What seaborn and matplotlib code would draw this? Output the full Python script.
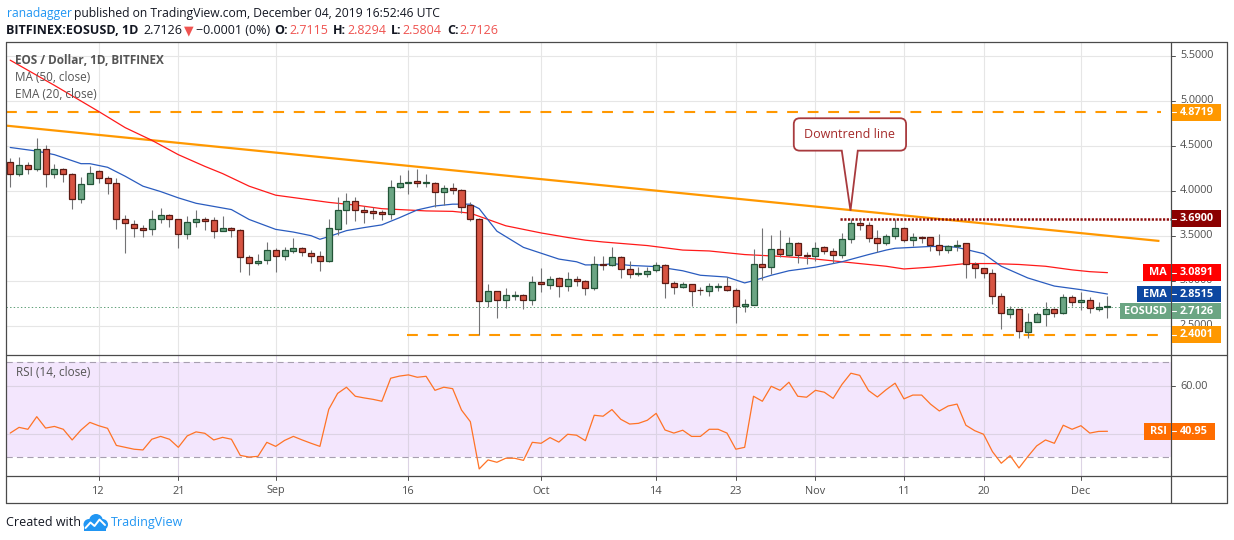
import numpy as np
import pandas as pd
import matplotlib
matplotlib.use("Agg")
import matplotlib.pyplot as plt
import matplotlib.dates as mdates
from matplotlib.patches import Rectangle, PathPatch, Circle
from matplotlib.path import Path
from matplotlib.lines import Line2D
from matplotlib.transforms import Bbox
import seaborn as sns

# ---------------- data ----------------
start_date = "2019-08-02"

opens = [4.32, 4.18, 4.29, 4.24, 4.46, 4.19, 4.24, 4.18, 3.91, 4.07,
         4.22, 4.14, 4.09, 3.68, 3.63, 3.59, 3.57, 3.69, 3.73, 3.68,
         3.52, 3.65, 3.68, 3.67, 3.55, 3.58, 3.56, 3.26, 3.20, 3.23,
         3.34, 3.27, 3.33, 3.36, 3.31, 3.27, 3.22, 3.57, 3.79, 3.88,
         3.78, 3.77, 3.76, 3.74, 4.04, 4.09, 4.105, 4.085, 4.09, 3.98,
         4.03, 4.01, 3.84, 3.69, 2.77, 2.88, 2.79, 2.835, 2.84, 2.79,
         2.98, 2.95, 3.03, 2.94, 3.02, 3.00, 2.92, 3.19, 3.17, 3.26,
         3.13, 3.07, 3.07, 3.115, 3.17, 2.97, 2.935, 2.96, 2.90, 2.88,
         2.935, 2.94, 2.90, 2.72, 2.73, 3.19, 3.15, 3.35, 3.29, 3.42,
         3.28, 3.27, 3.37, 3.33, 3.28, 3.46, 3.64, 3.62, 3.47, 3.42,
         3.50, 3.59, 3.45, 3.49, 3.48, 3.40, 3.34, 3.38, 3.42, 3.18,
         3.14, 3.09, 2.83, 2.63, 2.69, 2.43, 2.54, 2.63, 2.69, 2.64,
         2.82, 2.76, 2.79, 2.69, 2.7115]
highs = [4.36, 4.37, 4.32, 4.58, 4.51, 4.30, 4.25, 4.20, 4.15, 4.27,
         4.23, 4.16, 4.14, 3.73, 3.67, 3.62, 3.79, 3.81, 3.74, 3.69,
         3.72, 3.79, 3.705, 3.71, 3.72, 3.60, 3.57, 3.29, 3.30, 3.43,
         3.36, 3.37, 3.47, 3.37, 3.34, 3.33, 3.68, 3.93, 3.97, 3.93,
         3.83, 3.82, 3.79, 4.12, 4.17, 4.23, 4.24, 4.185, 4.10, 4.06,
         4.08, 4.02, 3.87, 3.70, 2.96, 2.89, 2.92, 2.88, 2.85, 3.05,
         3.14, 3.05, 3.04, 3.10, 3.05, 3.01, 3.27, 3.27, 3.37, 3.27,
         3.22, 3.15, 3.15, 3.21, 3.19, 3.00, 2.985, 2.965, 2.93, 2.97,
         2.97, 3.04, 2.92, 2.80, 3.35, 3.59, 3.51, 3.56, 3.48, 3.43,
         3.32, 3.43, 3.39, 3.36, 3.53, 3.69, 3.69, 3.65, 3.56, 3.515,
         3.69, 3.60, 3.53, 3.495, 3.49, 3.515, 3.40, 3.456, 3.42, 3.21,
         3.14, 3.13, 2.86, 2.72, 2.69, 2.64, 2.65, 2.76, 2.70, 2.85,
         2.84, 2.87, 2.82, 2.76, 2.8294]
lows = [4.04, 4.16, 4.18, 4.22, 4.04, 4.14, 4.10, 3.80, 3.86, 4.07,
        4.08, 3.96, 3.57, 3.31, 3.48, 3.49, 3.51, 3.64, 3.60, 3.36,
        3.46, 3.60, 3.56, 3.47, 3.55, 3.49, 3.10, 3.06, 3.17, 3.19,
        3.10, 3.23, 3.31, 3.27, 3.20, 3.11, 3.21, 3.51, 3.63, 3.66,
        3.64, 3.68, 3.67, 3.69, 4.03, 3.96, 4.04, 4.04, 3.82, 3.84,
        3.96, 3.75, 3.66, 2.40, 2.71, 2.59, 2.70, 2.78, 2.68, 2.73,
        2.87, 2.905, 2.82, 2.88, 2.94, 2.84, 2.90, 3.12, 3.16, 3.03,
        3.03, 3.05, 3.04, 3.10, 2.81, 2.855, 2.915, 2.72, 2.845, 2.83,
        2.88, 2.88, 2.53, 2.656, 2.73, 3.01, 3.07, 3.26, 3.27, 3.20,
        3.18, 3.22, 3.30, 3.20, 3.25, 3.42, 3.56, 3.43, 3.32, 3.40,
        3.46, 3.43, 3.39, 3.42, 3.33, 3.28, 3.31, 3.33, 3.03, 3.03,
        3.03, 2.74, 2.46, 2.58, 2.36, 2.36, 2.54, 2.50, 2.60, 2.63,
        2.72, 2.67, 2.64, 2.66, 2.5804]
closes = [4.18, 4.29, 4.24, 4.46, 4.19, 4.24, 4.18, 3.91, 4.07, 4.20,
          4.14, 4.08, 3.68, 3.64, 3.59, 3.56, 3.69, 3.73, 3.68, 3.52,
          3.65, 3.68, 3.667, 3.55, 3.58, 3.56, 3.26, 3.20, 3.22, 3.34,
          3.27, 3.34, 3.36, 3.32, 3.27, 3.22, 3.58, 3.79, 3.88, 3.78,
          3.76, 3.756, 3.74, 4.04, 4.08, 4.10, 4.08, 4.09, 3.98, 4.03,
          4.01, 3.82, 3.69, 2.77, 2.88, 2.79, 2.84, 2.84, 2.79, 2.98,
          2.96, 3.02, 2.94, 3.02, 3.00, 2.92, 3.19, 3.17, 3.26, 3.13,
          3.07, 3.08, 3.11, 3.17, 2.97, 2.93, 2.96, 2.89, 2.895, 2.94,
          2.94, 2.90, 2.72, 2.74, 3.19, 3.15, 3.35, 3.30, 3.42, 3.28,
          3.27, 3.36, 3.33, 3.28, 3.46, 3.64, 3.62, 3.47, 3.42, 3.50,
          3.59, 3.45, 3.48, 3.478, 3.40, 3.34, 3.38, 3.40, 3.19, 3.14,
          3.09, 2.83, 2.64, 2.69, 2.44, 2.54, 2.63, 2.69, 2.64, 2.82,
          2.76, 2.79, 2.70, 2.7127, 2.7126]

rsi_values = [40.2, 42.6, 41.8, 47.1, 42.3, 43.0, 41.8, 37.3, 41.5, 44.7,
              43.3, 42.2, 35.0, 34.2, 33.4, 33.1, 37.6, 38.8, 37.6, 34.2,
              39.0, 40.7, 40.1, 37.3, 38.4, 37.6, 30.8, 30.1, 30.4, 36.3,
              34.6, 37.1, 38.8, 37.3, 35.9, 34.6, 50.2, 56.9, 59.5, 55.7,
              55.0, 54.4, 53.6, 63.3, 64.2, 64.7, 63.7, 64.1, 58.2, 59.5,
              58.9, 49.9, 45.0, 25.1, 28.9, 27.9, 29.6, 29.6, 28.7, 36.3,
              35.9, 38.3, 36.4, 39.7, 39.3, 37.0, 47.7, 47.3, 50.1, 46.0,
              44.0, 44.3, 45.6, 48.5, 41.5, 40.2, 41.4, 38.8, 38.8, 41.8,
              41.8, 40.2, 33.4, 34.2, 55.7, 53.6, 59.9, 58.2, 61.6, 55.7,
              55.3, 58.2, 57.4, 54.8, 60.7, 65.4, 64.5, 58.1, 55.4, 58.5,
              61.2, 54.6, 56.2, 56.2, 52.4, 49.5, 51.6, 52.4, 43.5, 41.2,
              39.7, 32.4, 27.5, 30.7, 25.5, 30.3, 34.8, 37.3, 35.9, 43.5,
              41.8, 43.3, 40.2, 40.9, 40.95]

ma_days = [0, 5, 10, 13, 16, 19, 22, 24, 27, 30, 33, 36, 39, 42, 44, 47, 50,
           52, 54, 56, 60, 63, 65, 67, 72, 76, 79, 83, 87, 90, 93, 96, 99,
           101, 104, 106, 108, 111, 114, 117, 120, 122, 124]
ma_values = [5.45, 5.17, 4.88, 4.70, 4.56, 4.40, 4.27, 4.19, 4.05, 3.95, 3.91,
             3.87, 3.84, 3.80, 3.79, 3.775, 3.77, 3.75, 3.68, 3.61, 3.53, 3.48,
             3.45, 3.43, 3.39, 3.34, 3.33, 3.29, 3.27, 3.25, 3.22, 3.19, 3.16,
             3.13, 3.15, 3.17, 3.19, 3.19, 3.18, 3.16, 3.12, 3.10, 3.0891]

ema_days = [0, 3, 5, 8, 9, 11, 13, 15, 17, 19, 21, 25, 27, 30, 32, 34, 35, 36,
            38, 40, 42, 44, 46, 48, 50, 52, 53, 55, 58, 62, 64, 65, 67, 68, 70,
            73, 76, 78, 81, 83, 84, 86, 88, 91, 94, 97, 99, 100, 104, 106, 107,
            110, 112, 115, 118, 121, 124]
ema_values = [4.48, 4.44, 4.40, 4.30, 4.30, 4.26, 4.16, 4.05, 3.99, 3.92, 3.86,
              3.79, 3.68, 3.57, 3.54, 3.50, 3.46, 3.49, 3.556, 3.59, 3.62, 3.70,
              3.786, 3.83, 3.85, 3.85, 3.80, 3.55, 3.37, 3.24, 3.21, 3.175,
              3.175, 3.19, 3.17, 3.156, 3.11, 3.06, 3.04, 2.975, 3.00, 3.06,
              3.11, 3.15, 3.21, 3.29, 3.34, 3.36, 3.38, 3.38, 3.37, 3.30, 3.16,
              3.03, 2.94, 2.90, 2.8515]

x_tick_dates = ["2019-08-12", "2019-08-21", "2019-09-01", "2019-09-16",
                "2019-10-01", "2019-10-14", "2019-10-23", "2019-11-01",
                "2019-11-11", "2019-11-20", "2019-12-01"]
x_tick_labels = ["12", "21", "Sep", "16", "Oct", "14", "23", "Nov", "11", "20", "Dec"]
price_ticks = [2.5, 3.0, 3.5, 4.0, 4.5, 5.0, 5.5]
rsi_ticks = [40, 60]

resistance_top = 4.8719
resistance_mid = 3.69
support_level = 2.4001
trend_start = ("2019-08-01 12:00", 4.723)
trend_end = ("2019-12-09 21:00", 3.441)

# ---------------- style ----------------
sns.set_theme(style="white")
plt.rcParams["font.family"] = ["Open Sans", "DejaVu Sans"]
plt.rcParams["lines.scale_dashes"] = False

W, H = 1234, 540
fig = plt.figure(figsize=(W / 100, H / 100), dpi=100)
fig.patch.set_facecolor("white")

LEFT, AXR, RIGHT = 6, 1171, 1227
TOP, SEP1, SEP2, BOTTOM = 42, 355, 476.3, 503.3

def fx(px):
    return px / W

def fy(py):
    return 1 - py / H

def axes_px(x0, y0, x1, y1):
    return fig.add_axes([fx(x0), fy(y1), (x1 - x0) / W, (y1 - y0) / H])

def line_px(xs_, ys_, **kw):
    fig.add_artist(Line2D([fx(v) for v in xs_], [fy(v) for v in ys_],
                          transform=fig.transFigure, **kw))

def rect_px(x0, y0, x1, y1, color, z=5):
    fig.add_artist(Rectangle((fx(x0), fy(y1)), (x1 - x0) / W, (y1 - y0) / H,
                             transform=fig.transFigure, facecolor=color,
                             edgecolor="none", zorder=z))

df = pd.DataFrame({"date": pd.date_range(start_date, periods=len(closes), freq="D"),
                   "open": opens, "high": highs, "low": lows, "close": closes,
                   "rsi": rsi_values})
df["x"] = mdates.date2num(df["date"])
x0num = df["x"].iloc[0]
xlim = (x0num - 0.475, x0num + 131.18)

def d2n(s):
    return mdates.date2num(pd.Timestamp(s))

# ---------------- main pane ----------------
ax = axes_px(LEFT, TOP, AXR, SEP1)
ax.set_facecolor("white")
tick_nums = mdates.date2num(pd.to_datetime(x_tick_dates))
ax.set_xticks(tick_nums)
ax.set_yticks(price_ticks)
ax.grid(True, color="#e6e6e6", linewidth=0.8)
ax.set_axisbelow(True)
ax.tick_params(labelbottom=False, labelleft=False, length=0)
for s in ax.spines.values():
    s.set_visible(False)

# level / trend lines
ax.plot([xlim[0], d2n("2019-12-10 02:00")], [resistance_top] * 2, color="#ff9800",
        lw=1.5, linestyle=(0, (7.8, 7.0)), zorder=2)
ax.plot([d2n("2019-09-15 19:00"), d2n("2019-12-10 12:00")], [support_level] * 2,
        color="#ff9800", lw=1.5, linestyle=(0, (7.8, 7.0)), zorder=2)
ax.plot([d2n(trend_start[0]), d2n(trend_end[0])], [trend_start[1], trend_end[1]],
        color="#ff9800", lw=1.6, solid_capstyle="butt", zorder=2)
ax.plot([d2n("2019-11-03 19:00"), xlim[1]], [resistance_mid] * 2, color="#8e0b0b",
        lw=1.8, linestyle=(0, (1.6, 1.1)), zorder=2)
ax.plot([xlim[0], xlim[1]], [closes[-1]] * 2, color="#5d9e76", lw=0.7,
        linestyle=(0, (1.0, 1.6)), zorder=2)

# moving averages
sns.lineplot(x=x0num + np.array(ma_days), y=ma_values, ax=ax, color="#ff1a1a",
             lw=0.9, estimator=None, sort=False, legend=False, zorder=3)
sns.lineplot(x=x0num + np.array(ema_days), y=ema_values, ax=ax, color="#2a5cbf",
             lw=0.9, estimator=None, sort=False, legend=False, zorder=3)

# candles
xs = df["x"].values
o = df["open"].values; h = df["high"].values; l = df["low"].values; c = df["close"].values
up = c >= o
body_bottom = np.minimum(o, c)
body_h = np.maximum(np.abs(c - o), 0.006)
ax.vlines(xs, l, h, colors="#737375", linewidth=0.8, zorder=4)
ax.bar(xs[up], body_h[up], bottom=body_bottom[up], width=0.68, color="#6ba583",
       edgecolor="#225437", linewidth=0.9, zorder=5)
ax.bar(xs[~up], body_h[~up], bottom=body_bottom[~up], width=0.68, color="#d75442",
       edgecolor="#5b1a13", linewidth=0.9, zorder=5)
ax.set_xlim(*xlim)
ax.set_ylim(2.174, 5.652)
ax.set_xlabel(""); ax.set_ylabel("")

fig.text(fx(15), fy(60.5), "EOS / Dollar, 1D, BITFINEX", fontsize=8.5, fontweight="bold",
         color="#555555", va="center", ha="left", zorder=7)
fig.text(fx(15), fy(78), "MA (50, close)", fontsize=8.5, color="#555555",
         va="center", ha="left", zorder=7)
fig.text(fx(15), fy(95), "EMA (20, close)", fontsize=8.5, color="#555555",
         va="center", ha="left", zorder=7)

# ---------------- RSI pane ----------------
axr = axes_px(LEFT, SEP1, AXR, SEP2)
axr.set_facecolor("white")
axr.axhspan(30, 70, color="#f3e6fd", zorder=0, lw=0)
axr.set_xticks(tick_nums)
axr.set_yticks(rsi_ticks)
axr.grid(True, color="#dcd3e4", linewidth=0.8)
axr.set_axisbelow(True)
axr.tick_params(labelbottom=False, labelleft=False, length=0)
for s in axr.spines.values():
    s.set_visible(False)
for lev in (70, 30):
    axr.axhline(lev, color="#a79fb0", lw=0.8, linestyle=(0, (4.5, 3.0)), zorder=1)
sns.lineplot(x=df["x"], y=df["rsi"], ax=axr, color="#ff7326", lw=0.9,
             estimator=None, legend=False, zorder=3)
axr.set_xlim(*xlim)
axr.set_ylim(22.0, 73.07)
axr.set_xlabel(""); axr.set_ylabel("")
fig.text(fx(15.5), fy(372.7), "RSI (14, close)", fontsize=8.5, color="#555555",
         va="center", ha="left", zorder=7)

# ---------------- frame ----------------
fc = "#4a4a4a"
for yy in (TOP, SEP1, SEP2, BOTTOM):
    line_px([LEFT, RIGHT], [yy, yy], color=fc, lw=0.9, zorder=8)
for xx in (LEFT, RIGHT, AXR):
    line_px([xx, xx], [TOP, BOTTOM], color=fc, lw=0.9, zorder=8)

def price_py(p):
    return H - ax.transData.transform((x0num, p))[1]

def rsi_py(r):
    return H - axr.transData.transform((x0num, r))[1]

def date_px(n):
    return ax.transData.transform((n, 3.0))[0]

# ---------------- price labels on the axis (computed first for clipping) ----------------
BH = 16.6
labels = [
    (resistance_top, None, 0, "#ff9800"),
    (resistance_mid, None, 0, "#8b0000"),
    (ma_values[-1], "MA", 28, "#ff0000"),
    (ema_values[-1], "EMA", 34, "#0d47a1"),
    (closes[-1], "EOSUSD", 51, "#6ba583"),
    (support_level, None, 0, "#ff9800"),
]
boxes = []
prev_bottom = -1e9
for val, name, nw, col in sorted(labels, key=lambda t: price_py(t[0])):
    cy = price_py(val)
    top = cy - BH / 2
    if top < prev_bottom + 0.4:
        top = prev_bottom + 0.4
    bot = top + BH
    prev_bottom = bot
    boxes.append((top, bot))
    cy = (top + bot) / 2
    rect_px(AXR + 0.5, top, 1221, bot, col, z=9)
    line_px([AXR + 1, AXR + 5], [cy, cy], color="white", lw=0.8, zorder=10)
    fig.text(fx(1180), fy(cy), f"{val:.4f}", fontsize=7.8, color="white",
             fontweight="bold", va="center", ha="left", zorder=10)
    if name:
        rect_px(AXR - nw, top, AXR - 0.5, bot, col, z=9)
        fig.text(fx(AXR - 4), fy(cy), name, fontsize=7.8, color="white",
                 fontweight="bold", va="center", ha="right", zorder=10)

ry = rsi_py(rsi_values[-1])
rbox = (ry - BH / 2, ry + BH / 2)
rect_px(AXR + 0.5, rbox[0], 1214.5, rbox[1], "#ff6d00", z=9)
rect_px(AXR - 27, rbox[0], AXR - 0.5, rbox[1], "#ff6d00", z=9)
line_px([AXR + 1, AXR + 5], [ry, ry], color="white", lw=0.8, zorder=10)
fig.text(fx(1180), fy(ry), f"{rsi_values[-1]:.2f}", fontsize=7.8, color="white",
         fontweight="bold", va="center", ha="left", zorder=10)
fig.text(fx(AXR - 4), fy(ry), "RSI", fontsize=7.8, color="white",
         fontweight="bold", va="center", ha="right", zorder=10)

def free_interval(py, half, occupied):
    lo, hi = py - half, py + half
    segs = [(lo, hi)]
    for t0, t1 in occupied:
        new = []
        for a, b in segs:
            if t1 <= a or t0 >= b:
                new.append((a, b))
            else:
                if t0 > a:
                    new.append((a, t0))
                if t1 < b:
                    new.append((t1, b))
        segs = new
    if not segs:
        return None
    return max(segs, key=lambda s: s[1] - s[0])

tick_col = "#4f4f4f"

def axis_label(py, text, occupied):
    seg = free_interval(py, 7, occupied)
    line_px([AXR, AXR + 4], [py, py], color=tick_col, lw=0.7, zorder=3)
    if seg is None or seg[1] - seg[0] < 1:
        return
    t = fig.text(fx(1180), fy(py), text, fontsize=7.8, color=tick_col,
                 va="center", ha="left", zorder=3)
    if seg[1] - seg[0] < 13.9:
        t.set_clip_box(Bbox([[AXR + 2, H - seg[1]], [RIGHT - 1, H - seg[0]]]))
        t.set_clip_on(True)

for p in price_ticks:
    axis_label(price_py(p), f"{p:.4f}", boxes)
for r in rsi_ticks:
    axis_label(rsi_py(r), f"{r:.2f}", [rbox])

for n, lab in zip(tick_nums, x_tick_labels):
    px = date_px(n)
    line_px([px, px], [SEP2, SEP2 + 4], color=tick_col, lw=0.7, zorder=3)
    fig.text(fx(px), fy(491), lab, fontsize=7.8, color=tick_col,
             va="center", ha="center", zorder=3)

# ---------------- callout ----------------
tip_disp = ax.transData.transform((d2n("2019-11-04 23:00"), 3.778))
tx, ty = tip_disp[0], H - tip_disp[1]
bx0, bx1, by0, by1, rr = tx - 56.7, tx + 55.6, ty - 92.4, ty - 60.0, 6
pb0, pb1 = tx - 8.7, tx + 7.3
pts = [
    ((bx0 + rr, by0), Path.MOVETO), ((bx1 - rr, by0), Path.LINETO),
    ((bx1, by0), Path.CURVE3), ((bx1, by0 + rr), Path.CURVE3),
    ((bx1, by1 - rr), Path.LINETO),
    ((bx1, by1), Path.CURVE3), ((bx1 - rr, by1), Path.CURVE3),
    ((pb1, by1), Path.LINETO), ((tx, ty), Path.LINETO), ((pb0, by1), Path.LINETO),
    ((bx0 + rr, by1), Path.LINETO),
    ((bx0, by1), Path.CURVE3), ((bx0, by1 - rr), Path.CURVE3),
    ((bx0, by0 + rr), Path.LINETO),
    ((bx0, by0), Path.CURVE3), ((bx0 + rr, by0), Path.CURVE3),
    ((bx0 + rr, by0), Path.CLOSEPOLY),
]
verts = [(fx(p[0]), fy(p[1])) for p, _ in pts]
codes = [cd for _, cd in pts]
fig.add_artist(PathPatch(Path(verts, codes), transform=fig.transFigure,
                         facecolor="white", edgecolor="#a83a3e", lw=1.3, zorder=11))
fig.text(fx((bx0 + bx1) / 2), fy((by0 + by1) / 2), "Downtrend line", fontsize=9,
         color="#a52a2a", va="center", ha="center", zorder=12)

# ---------------- header ----------------
renderer = fig.canvas.get_renderer()

def seq(items, x_start, y, size):
    xcur = x_start
    for txt, col, wt, gap in items:
        t = fig.text(fx(xcur), fy(y), txt, fontsize=size, color=col, fontweight=wt,
                     va="center", ha="left", zorder=10)
        bb = t.get_window_extent(renderer)
        xcur += bb.width + gap

red = "#ef5350"
seq([("ranadagger", "#2196f3", "normal", 3),
     ("published on TradingView.com, December 04, 2019 16:52:46 UTC", "#131722", "normal", 0)],
    6.5, 13, 8.75)
chg = closes[-1] - closes[-2]
sign = "\u2212" if chg < 0 else "+"
seq([("BITFINEX:EOSUSD, 1D", "#131722", "bold", 5),
     (f"{closes[-1]:.4f}", "#131722", "normal", 1),
     ("\u25bc", red, "normal", 2),
     (f"{sign}{abs(chg):.4f} ({abs(chg) / closes[-2] * 100:.0f}%)", "#131722", "normal", 5),
     ("O:", "#131722", "bold", 1), (f"{opens[-1]:.4f}", red, "normal", 5),
     ("H:", "#131722", "bold", 1), (f"{highs[-1]:.4f}", red, "normal", 5),
     ("L:", "#131722", "bold", 1), (f"{lows[-1]:.4f}", red, "normal", 5),
     ("C:", "#131722", "bold", 1), (f"{closes[-1]:.4f}", red, "normal", 0)],
    6.5, 30.5, 9)

# ---------------- footer ----------------
fig.text(fx(6), fy(522.5), "Created with", fontsize=9, color="#131722",
         va="center", ha="left")
logo = axes_px(82, 513, 108, 531)
logo.set_xlim(0, 26); logo.set_ylim(18, 0); logo.axis("off")
for cx, cy_, rad in [(7, 11.5, 5.5), (14, 8, 7), (20.5, 11.5, 5.5)]:
    logo.add_patch(Circle((cx, cy_), rad, color="#2196f3", lw=0))
logo.add_patch(Rectangle((2, 11), 22, 6.5, color="#2196f3", lw=0))
logo.plot([3.5, 8.5, 12.5, 17.5, 23], [15, 9.5, 13, 6.5, 12], color="white", lw=1.4)
fig.text(fx(110.5), fy(522.5), "TradingView", fontsize=9, color="#2196f3",
         va="center", ha="left")

fig.savefig("out.png", dpi=100, facecolor="white")
